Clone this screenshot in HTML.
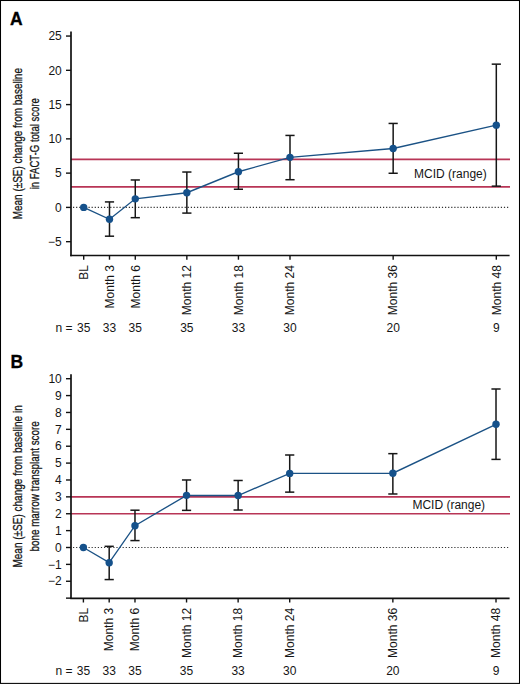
<!DOCTYPE html>
<html><head><meta charset="utf-8"><style>html,body{margin:0;padding:0;background:#fff;}svg{display:block;}</style></head>
<body><svg width="520" height="684" viewBox="0 0 520 684">
<rect x="0.5" y="0.5" width="519" height="682.9" fill="#fff" stroke="#000" stroke-width="1.05"/>
<text x="10" y="24.5" font-family='"Liberation Sans", sans-serif' font-weight="bold" font-size="17.5" fill="#000" stroke="#000" stroke-width="0.3">A</text>
<text transform="translate(22.2,143.7) rotate(-90)" text-anchor="middle" font-family='"Liberation Sans", sans-serif' font-size="13.5" fill="#151515" stroke="#151515" stroke-width="0.3" textLength="151.3" lengthAdjust="spacingAndGlyphs">Mean (±SE) change from baseline</text>
<text transform="translate(39.3,143.7) rotate(-90)" text-anchor="middle" font-family='"Liberation Sans", sans-serif' font-size="13.5" fill="#151515" stroke="#151515" stroke-width="0.3" textLength="91.2" lengthAdjust="spacingAndGlyphs">in FACT-G total score</text>
<line x1="71" y1="159.42" x2="510" y2="159.42" stroke="#b83556" stroke-width="1.6"/>
<line x1="71" y1="186.84" x2="510" y2="186.84" stroke="#b83556" stroke-width="1.6"/>
<line x1="73" y1="207.40" x2="510" y2="207.40" stroke="#333" stroke-width="1.1" stroke-dasharray="1.2 1.9"/>
<line x1="71" y1="31.5" x2="71" y2="256.3" stroke="#111" stroke-width="1.7"/>
<line x1="70.2" y1="255.5" x2="509.6" y2="255.5" stroke="#111" stroke-width="1.7"/>
<line x1="66" y1="36.05" x2="71" y2="36.05" stroke="#111" stroke-width="1.4"/>
<text x="61.8" y="40.25" text-anchor="end" font-family='"Liberation Sans", sans-serif' font-size="12" fill="#151515">25</text>
<line x1="66" y1="70.32" x2="71" y2="70.32" stroke="#111" stroke-width="1.4"/>
<text x="61.8" y="74.52" text-anchor="end" font-family='"Liberation Sans", sans-serif' font-size="12" fill="#151515">20</text>
<line x1="66" y1="104.59" x2="71" y2="104.59" stroke="#111" stroke-width="1.4"/>
<text x="61.8" y="108.79" text-anchor="end" font-family='"Liberation Sans", sans-serif' font-size="12" fill="#151515">15</text>
<line x1="66" y1="138.86" x2="71" y2="138.86" stroke="#111" stroke-width="1.4"/>
<text x="61.8" y="143.06" text-anchor="end" font-family='"Liberation Sans", sans-serif' font-size="12" fill="#151515">10</text>
<line x1="66" y1="173.13" x2="71" y2="173.13" stroke="#111" stroke-width="1.4"/>
<text x="61.8" y="177.33" text-anchor="end" font-family='"Liberation Sans", sans-serif' font-size="12" fill="#151515">5</text>
<line x1="66" y1="207.40" x2="71" y2="207.40" stroke="#111" stroke-width="1.4"/>
<text x="61.8" y="211.60" text-anchor="end" font-family='"Liberation Sans", sans-serif' font-size="12" fill="#151515">0</text>
<line x1="66" y1="241.67" x2="71" y2="241.67" stroke="#111" stroke-width="1.4"/>
<text x="61.8" y="245.87" text-anchor="end" font-family='"Liberation Sans", sans-serif' font-size="12" fill="#151515">−5</text>
<line x1="83.70" y1="255.5" x2="83.70" y2="259.7" stroke="#111" stroke-width="1.4"/>
<text transform="translate(88.00,265.1) rotate(-90)" text-anchor="end" font-family='"Liberation Sans", sans-serif' font-size="12" fill="#151515">BL</text>
<text x="83.70" y="331.7" text-anchor="middle" font-family='"Liberation Sans", sans-serif' font-size="12" fill="#151515">35</text>
<line x1="109.49" y1="255.5" x2="109.49" y2="259.7" stroke="#111" stroke-width="1.4"/>
<text transform="translate(113.79,265.1) rotate(-90)" text-anchor="end" font-family='"Liberation Sans", sans-serif' font-size="12" fill="#151515">Month 3</text>
<text x="109.49" y="331.7" text-anchor="middle" font-family='"Liberation Sans", sans-serif' font-size="12" fill="#151515">33</text>
<line x1="135.28" y1="255.5" x2="135.28" y2="259.7" stroke="#111" stroke-width="1.4"/>
<text transform="translate(139.58,265.1) rotate(-90)" text-anchor="end" font-family='"Liberation Sans", sans-serif' font-size="12" fill="#151515">Month 6</text>
<text x="135.28" y="331.7" text-anchor="middle" font-family='"Liberation Sans", sans-serif' font-size="12" fill="#151515">35</text>
<line x1="186.85" y1="255.5" x2="186.85" y2="259.7" stroke="#111" stroke-width="1.4"/>
<text transform="translate(191.15,265.1) rotate(-90)" text-anchor="end" font-family='"Liberation Sans", sans-serif' font-size="12" fill="#151515">Month 12</text>
<text x="186.85" y="331.7" text-anchor="middle" font-family='"Liberation Sans", sans-serif' font-size="12" fill="#151515">35</text>
<line x1="238.43" y1="255.5" x2="238.43" y2="259.7" stroke="#111" stroke-width="1.4"/>
<text transform="translate(242.73,265.1) rotate(-90)" text-anchor="end" font-family='"Liberation Sans", sans-serif' font-size="12" fill="#151515">Month 18</text>
<text x="238.43" y="331.7" text-anchor="middle" font-family='"Liberation Sans", sans-serif' font-size="12" fill="#151515">33</text>
<line x1="290.00" y1="255.5" x2="290.00" y2="259.7" stroke="#111" stroke-width="1.4"/>
<text transform="translate(294.30,265.1) rotate(-90)" text-anchor="end" font-family='"Liberation Sans", sans-serif' font-size="12" fill="#151515">Month 24</text>
<text x="290.00" y="331.7" text-anchor="middle" font-family='"Liberation Sans", sans-serif' font-size="12" fill="#151515">30</text>
<line x1="393.16" y1="255.5" x2="393.16" y2="259.7" stroke="#111" stroke-width="1.4"/>
<text transform="translate(397.46,265.1) rotate(-90)" text-anchor="end" font-family='"Liberation Sans", sans-serif' font-size="12" fill="#151515">Month 36</text>
<text x="393.16" y="331.7" text-anchor="middle" font-family='"Liberation Sans", sans-serif' font-size="12" fill="#151515">20</text>
<line x1="496.31" y1="255.5" x2="496.31" y2="259.7" stroke="#111" stroke-width="1.4"/>
<text transform="translate(500.61,265.1) rotate(-90)" text-anchor="end" font-family='"Liberation Sans", sans-serif' font-size="12" fill="#151515">Month 48</text>
<text x="496.31" y="331.7" text-anchor="middle" font-family='"Liberation Sans", sans-serif' font-size="12" fill="#151515">9</text>
<text x="72.4" y="331.7" text-anchor="end" font-family='"Liberation Sans", sans-serif' font-size="12" fill="#151515">n =</text>
<text x="414.1" y="178.1" font-family='"Liberation Sans", sans-serif' font-size="12" fill="#151515">MCID (range)</text>
<polyline points="83.70,207.40 109.49,219.26 135.28,198.83 186.85,192.73 238.43,171.76 290.00,157.37 393.16,148.46 496.31,125.15" fill="none" stroke="#1b5285" stroke-width="1.35"/>
<line x1="109.49" y1="201.92" x2="109.49" y2="236.19" stroke="#161616" stroke-width="1.5"/>
<line x1="104.89" y1="201.92" x2="114.09" y2="201.92" stroke="#161616" stroke-width="1.5"/>
<line x1="104.89" y1="236.19" x2="114.09" y2="236.19" stroke="#161616" stroke-width="1.5"/>
<line x1="135.28" y1="179.98" x2="135.28" y2="217.68" stroke="#161616" stroke-width="1.5"/>
<line x1="130.68" y1="179.98" x2="139.88" y2="179.98" stroke="#161616" stroke-width="1.5"/>
<line x1="130.68" y1="217.68" x2="139.88" y2="217.68" stroke="#161616" stroke-width="1.5"/>
<line x1="186.85" y1="172.03" x2="186.85" y2="213.09" stroke="#161616" stroke-width="1.5"/>
<line x1="182.25" y1="172.03" x2="191.45" y2="172.03" stroke="#161616" stroke-width="1.5"/>
<line x1="182.25" y1="213.09" x2="191.45" y2="213.09" stroke="#161616" stroke-width="1.5"/>
<line x1="238.43" y1="153.25" x2="238.43" y2="189.24" stroke="#161616" stroke-width="1.5"/>
<line x1="233.83" y1="153.25" x2="243.03" y2="153.25" stroke="#161616" stroke-width="1.5"/>
<line x1="233.83" y1="189.24" x2="243.03" y2="189.24" stroke="#161616" stroke-width="1.5"/>
<line x1="290.00" y1="135.43" x2="290.00" y2="179.71" stroke="#161616" stroke-width="1.5"/>
<line x1="285.40" y1="135.43" x2="294.60" y2="135.43" stroke="#161616" stroke-width="1.5"/>
<line x1="285.40" y1="179.71" x2="294.60" y2="179.71" stroke="#161616" stroke-width="1.5"/>
<line x1="393.16" y1="123.44" x2="393.16" y2="173.27" stroke="#161616" stroke-width="1.5"/>
<line x1="388.56" y1="123.44" x2="397.76" y2="123.44" stroke="#161616" stroke-width="1.5"/>
<line x1="388.56" y1="173.27" x2="397.76" y2="173.27" stroke="#161616" stroke-width="1.5"/>
<line x1="496.31" y1="64.15" x2="496.31" y2="186.15" stroke="#161616" stroke-width="1.5"/>
<line x1="491.71" y1="64.15" x2="500.91" y2="64.15" stroke="#161616" stroke-width="1.5"/>
<line x1="491.71" y1="186.15" x2="500.91" y2="186.15" stroke="#161616" stroke-width="1.5"/>
<circle cx="83.70" cy="207.40" r="3.7" fill="#15518b"/>
<circle cx="109.49" cy="219.26" r="3.7" fill="#15518b"/>
<circle cx="135.28" cy="198.83" r="3.7" fill="#15518b"/>
<circle cx="186.85" cy="192.73" r="3.7" fill="#15518b"/>
<circle cx="238.43" cy="171.76" r="3.7" fill="#15518b"/>
<circle cx="290.00" cy="157.37" r="3.7" fill="#15518b"/>
<circle cx="393.16" cy="148.46" r="3.7" fill="#15518b"/>
<circle cx="496.31" cy="125.15" r="3.7" fill="#15518b"/>
<text x="10.5" y="367.6" font-family='"Liberation Sans", sans-serif' font-weight="bold" font-size="17.5" fill="#000" stroke="#000" stroke-width="0.3">B</text>
<text transform="translate(22.2,486.4) rotate(-90)" text-anchor="middle" font-family='"Liberation Sans", sans-serif' font-size="13.5" fill="#151515" stroke="#151515" stroke-width="0.3" textLength="162.3" lengthAdjust="spacingAndGlyphs">Mean (±SE) change from baseline in</text>
<text transform="translate(39.3,486.4) rotate(-90)" text-anchor="middle" font-family='"Liberation Sans", sans-serif' font-size="13.5" fill="#151515" stroke="#151515" stroke-width="0.3" textLength="130.2" lengthAdjust="spacingAndGlyphs">bone marrow transplant score</text>
<line x1="71" y1="496.86" x2="510" y2="496.86" stroke="#b83556" stroke-width="1.6"/>
<line x1="71" y1="513.74" x2="510" y2="513.74" stroke="#b83556" stroke-width="1.6"/>
<line x1="73" y1="547.50" x2="510" y2="547.50" stroke="#333" stroke-width="1.1" stroke-dasharray="1.2 1.9"/>
<line x1="71" y1="374.3" x2="71" y2="599.0999999999999" stroke="#111" stroke-width="1.7"/>
<line x1="70.2" y1="598.3" x2="509.6" y2="598.3" stroke="#111" stroke-width="1.7"/>
<line x1="66" y1="378.70" x2="71" y2="378.70" stroke="#111" stroke-width="1.4"/>
<text x="61.8" y="382.90" text-anchor="end" font-family='"Liberation Sans", sans-serif' font-size="12" fill="#151515">10</text>
<line x1="66" y1="395.58" x2="71" y2="395.58" stroke="#111" stroke-width="1.4"/>
<text x="61.8" y="399.78" text-anchor="end" font-family='"Liberation Sans", sans-serif' font-size="12" fill="#151515">9</text>
<line x1="66" y1="412.46" x2="71" y2="412.46" stroke="#111" stroke-width="1.4"/>
<text x="61.8" y="416.66" text-anchor="end" font-family='"Liberation Sans", sans-serif' font-size="12" fill="#151515">8</text>
<line x1="66" y1="429.34" x2="71" y2="429.34" stroke="#111" stroke-width="1.4"/>
<text x="61.8" y="433.54" text-anchor="end" font-family='"Liberation Sans", sans-serif' font-size="12" fill="#151515">7</text>
<line x1="66" y1="446.22" x2="71" y2="446.22" stroke="#111" stroke-width="1.4"/>
<text x="61.8" y="450.42" text-anchor="end" font-family='"Liberation Sans", sans-serif' font-size="12" fill="#151515">6</text>
<line x1="66" y1="463.10" x2="71" y2="463.10" stroke="#111" stroke-width="1.4"/>
<text x="61.8" y="467.30" text-anchor="end" font-family='"Liberation Sans", sans-serif' font-size="12" fill="#151515">5</text>
<line x1="66" y1="479.98" x2="71" y2="479.98" stroke="#111" stroke-width="1.4"/>
<text x="61.8" y="484.18" text-anchor="end" font-family='"Liberation Sans", sans-serif' font-size="12" fill="#151515">4</text>
<line x1="66" y1="496.86" x2="71" y2="496.86" stroke="#111" stroke-width="1.4"/>
<text x="61.8" y="501.06" text-anchor="end" font-family='"Liberation Sans", sans-serif' font-size="12" fill="#151515">3</text>
<line x1="66" y1="513.74" x2="71" y2="513.74" stroke="#111" stroke-width="1.4"/>
<text x="61.8" y="517.94" text-anchor="end" font-family='"Liberation Sans", sans-serif' font-size="12" fill="#151515">2</text>
<line x1="66" y1="530.62" x2="71" y2="530.62" stroke="#111" stroke-width="1.4"/>
<text x="61.8" y="534.82" text-anchor="end" font-family='"Liberation Sans", sans-serif' font-size="12" fill="#151515">1</text>
<line x1="66" y1="547.50" x2="71" y2="547.50" stroke="#111" stroke-width="1.4"/>
<text x="61.8" y="551.70" text-anchor="end" font-family='"Liberation Sans", sans-serif' font-size="12" fill="#151515">0</text>
<line x1="66" y1="564.38" x2="71" y2="564.38" stroke="#111" stroke-width="1.4"/>
<text x="61.8" y="568.58" text-anchor="end" font-family='"Liberation Sans", sans-serif' font-size="12" fill="#151515">−1</text>
<line x1="66" y1="581.26" x2="71" y2="581.26" stroke="#111" stroke-width="1.4"/>
<text x="61.8" y="585.46" text-anchor="end" font-family='"Liberation Sans", sans-serif' font-size="12" fill="#151515">−2</text>
<line x1="66" y1="598.14" x2="71" y2="598.14" stroke="#111" stroke-width="1.4"/>
<line x1="83.40" y1="598.3" x2="83.40" y2="602.5" stroke="#111" stroke-width="1.4"/>
<text transform="translate(87.70,607.9) rotate(-90)" text-anchor="end" font-family='"Liberation Sans", sans-serif' font-size="12" fill="#151515">BL</text>
<text x="83.40" y="674.5" text-anchor="middle" font-family='"Liberation Sans", sans-serif' font-size="12" fill="#151515">35</text>
<line x1="109.19" y1="598.3" x2="109.19" y2="602.5" stroke="#111" stroke-width="1.4"/>
<text transform="translate(113.49,607.9) rotate(-90)" text-anchor="end" font-family='"Liberation Sans", sans-serif' font-size="12" fill="#151515">Month 3</text>
<text x="109.19" y="674.5" text-anchor="middle" font-family='"Liberation Sans", sans-serif' font-size="12" fill="#151515">33</text>
<line x1="134.98" y1="598.3" x2="134.98" y2="602.5" stroke="#111" stroke-width="1.4"/>
<text transform="translate(139.28,607.9) rotate(-90)" text-anchor="end" font-family='"Liberation Sans", sans-serif' font-size="12" fill="#151515">Month 6</text>
<text x="134.98" y="674.5" text-anchor="middle" font-family='"Liberation Sans", sans-serif' font-size="12" fill="#151515">35</text>
<line x1="186.55" y1="598.3" x2="186.55" y2="602.5" stroke="#111" stroke-width="1.4"/>
<text transform="translate(190.85,607.9) rotate(-90)" text-anchor="end" font-family='"Liberation Sans", sans-serif' font-size="12" fill="#151515">Month 12</text>
<text x="186.55" y="674.5" text-anchor="middle" font-family='"Liberation Sans", sans-serif' font-size="12" fill="#151515">35</text>
<line x1="238.13" y1="598.3" x2="238.13" y2="602.5" stroke="#111" stroke-width="1.4"/>
<text transform="translate(242.43,607.9) rotate(-90)" text-anchor="end" font-family='"Liberation Sans", sans-serif' font-size="12" fill="#151515">Month 18</text>
<text x="238.13" y="674.5" text-anchor="middle" font-family='"Liberation Sans", sans-serif' font-size="12" fill="#151515">33</text>
<line x1="289.70" y1="598.3" x2="289.70" y2="602.5" stroke="#111" stroke-width="1.4"/>
<text transform="translate(294.00,607.9) rotate(-90)" text-anchor="end" font-family='"Liberation Sans", sans-serif' font-size="12" fill="#151515">Month 24</text>
<text x="289.70" y="674.5" text-anchor="middle" font-family='"Liberation Sans", sans-serif' font-size="12" fill="#151515">30</text>
<line x1="392.86" y1="598.3" x2="392.86" y2="602.5" stroke="#111" stroke-width="1.4"/>
<text transform="translate(397.16,607.9) rotate(-90)" text-anchor="end" font-family='"Liberation Sans", sans-serif' font-size="12" fill="#151515">Month 36</text>
<text x="392.86" y="674.5" text-anchor="middle" font-family='"Liberation Sans", sans-serif' font-size="12" fill="#151515">20</text>
<line x1="496.01" y1="598.3" x2="496.01" y2="602.5" stroke="#111" stroke-width="1.4"/>
<text transform="translate(500.31,607.9) rotate(-90)" text-anchor="end" font-family='"Liberation Sans", sans-serif' font-size="12" fill="#151515">Month 48</text>
<text x="496.01" y="674.5" text-anchor="middle" font-family='"Liberation Sans", sans-serif' font-size="12" fill="#151515">9</text>
<text x="72.4" y="674.5" text-anchor="end" font-family='"Liberation Sans", sans-serif' font-size="12" fill="#151515">n =</text>
<text x="412.4" y="509.3" font-family='"Liberation Sans", sans-serif' font-size="12" fill="#151515">MCID (range)</text>
<polyline points="83.40,547.50 109.19,562.69 134.98,525.72 186.55,495.34 238.13,495.51 289.70,473.40 392.86,473.23 496.01,424.28" fill="none" stroke="#1b5285" stroke-width="1.35"/>
<line x1="109.19" y1="546.32" x2="109.19" y2="579.57" stroke="#161616" stroke-width="1.5"/>
<line x1="104.59" y1="546.32" x2="113.79" y2="546.32" stroke="#161616" stroke-width="1.5"/>
<line x1="104.59" y1="579.57" x2="113.79" y2="579.57" stroke="#161616" stroke-width="1.5"/>
<line x1="134.98" y1="510.20" x2="134.98" y2="540.58" stroke="#161616" stroke-width="1.5"/>
<line x1="130.38" y1="510.20" x2="139.58" y2="510.20" stroke="#161616" stroke-width="1.5"/>
<line x1="130.38" y1="540.58" x2="139.58" y2="540.58" stroke="#161616" stroke-width="1.5"/>
<line x1="186.55" y1="479.98" x2="186.55" y2="510.36" stroke="#161616" stroke-width="1.5"/>
<line x1="181.95" y1="479.98" x2="191.15" y2="479.98" stroke="#161616" stroke-width="1.5"/>
<line x1="181.95" y1="510.36" x2="191.15" y2="510.36" stroke="#161616" stroke-width="1.5"/>
<line x1="238.13" y1="480.49" x2="238.13" y2="510.03" stroke="#161616" stroke-width="1.5"/>
<line x1="233.53" y1="480.49" x2="242.73" y2="480.49" stroke="#161616" stroke-width="1.5"/>
<line x1="233.53" y1="510.03" x2="242.73" y2="510.03" stroke="#161616" stroke-width="1.5"/>
<line x1="289.70" y1="455.00" x2="289.70" y2="492.13" stroke="#161616" stroke-width="1.5"/>
<line x1="285.10" y1="455.00" x2="294.30" y2="455.00" stroke="#161616" stroke-width="1.5"/>
<line x1="285.10" y1="492.13" x2="294.30" y2="492.13" stroke="#161616" stroke-width="1.5"/>
<line x1="392.86" y1="453.65" x2="392.86" y2="493.99" stroke="#161616" stroke-width="1.5"/>
<line x1="388.26" y1="453.65" x2="397.46" y2="453.65" stroke="#161616" stroke-width="1.5"/>
<line x1="388.26" y1="493.99" x2="397.46" y2="493.99" stroke="#161616" stroke-width="1.5"/>
<line x1="496.01" y1="389.00" x2="496.01" y2="459.39" stroke="#161616" stroke-width="1.5"/>
<line x1="491.41" y1="389.00" x2="500.61" y2="389.00" stroke="#161616" stroke-width="1.5"/>
<line x1="491.41" y1="459.39" x2="500.61" y2="459.39" stroke="#161616" stroke-width="1.5"/>
<circle cx="83.40" cy="547.50" r="3.7" fill="#15518b"/>
<circle cx="109.19" cy="562.69" r="3.7" fill="#15518b"/>
<circle cx="134.98" cy="525.72" r="3.7" fill="#15518b"/>
<circle cx="186.55" cy="495.34" r="3.7" fill="#15518b"/>
<circle cx="238.13" cy="495.51" r="3.7" fill="#15518b"/>
<circle cx="289.70" cy="473.40" r="3.7" fill="#15518b"/>
<circle cx="392.86" cy="473.23" r="3.7" fill="#15518b"/>
<circle cx="496.01" cy="424.28" r="3.7" fill="#15518b"/>
</svg></body></html>
